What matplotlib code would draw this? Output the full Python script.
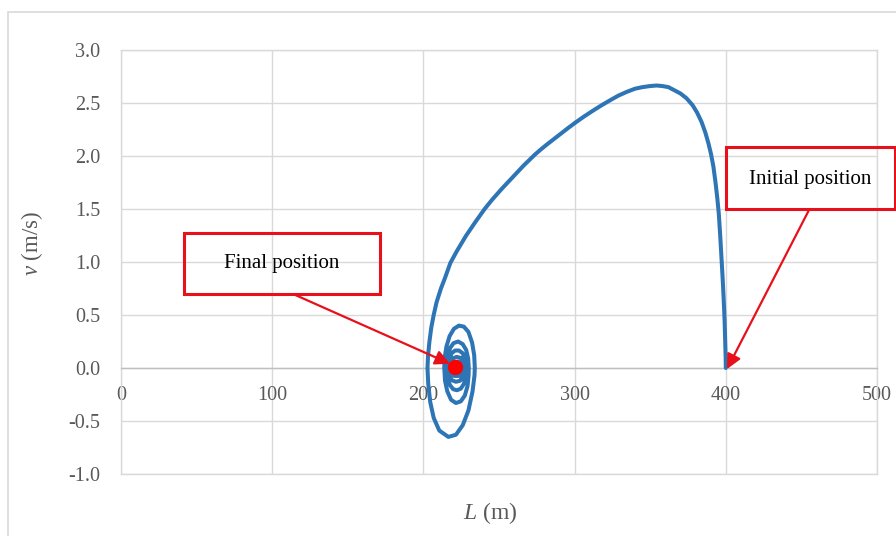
import matplotlib
matplotlib.use('Agg')
import matplotlib.pyplot as plt
from matplotlib.patches import Rectangle

# 主轨迹 (从初始位置 L=400 出发)
arc_L = [400.0, 399.9, 399.6, 399.2, 398.6, 397.9, 397.1, 396.3, 395.4, 394.4,
         393.2, 391.8, 390.2, 388.5, 386.5, 384.0, 381.0, 378.0, 374.0, 370.0,
         366.0, 362.0, 358.0, 354.3, 350.0, 345.0, 340.0, 334.5, 329.0, 324.0,
         318.0, 312.4, 306.5, 301.0, 295.8, 290.8, 286.3, 281.8, 277.5, 273.5,
         266.3, 259.0, 251.8, 245.3, 240.5, 234.5, 228.3, 222.0, 217.8, 214.3,
         211.6, 208.7, 206.8, 205.2, 204.0, 203.1, 202.7]
arc_v = [0.00, 0.10, 0.25, 0.45, 0.65, 0.85, 1.05, 1.25, 1.45, 1.60,
         1.75, 1.90, 2.02, 2.12, 2.22, 2.32, 2.41, 2.48, 2.545, 2.59,
         2.62, 2.65, 2.66, 2.665, 2.66, 2.65, 2.635, 2.605, 2.57, 2.53,
         2.48, 2.43, 2.375, 2.32, 2.265, 2.21, 2.16, 2.11, 2.06, 2.01,
         1.91, 1.80, 1.69, 1.585, 1.50, 1.38, 1.25, 1.10, 0.99, 0.85,
         0.75, 0.62, 0.50, 0.38, 0.25, 0.12, 0.00]

# 螺旋收敛部分
spiral_L = [203.2, 204.5, 206.8, 210.5, 216.5, 221.5, 226.0, 229.8, 232.5, 233.8, 234.0,
            233.6, 232.2, 229.8, 226.8, 223.5, 220.2, 217.3, 215.2, 214.1, 213.8,
            214.3, 215.8, 218.3, 221.5, 224.7, 227.4, 229.2, 229.9, 230.0,
            229.6, 228.3, 226.0, 223.0, 220.0, 217.7, 216.1, 215.5,
            216.0, 217.5, 219.7, 222.2, 224.7, 226.8, 227.8, 228.0,
            227.5, 226.0, 223.5, 221.0, 218.7, 217.1, 216.5,
            217.1, 218.8, 221.5, 224.3, 226.3, 227.0,
            226.4, 224.6, 222.0, 219.4, 217.9, 217.5,
            218.3, 220.4, 223.2, 225.4, 226.0,
            225.3, 223.0, 220.4, 218.9, 218.5,
            219.3, 222.0, 224.5, 225.0,
            223.8, 221.5, 219.8, 219.5,
            220.5, 222.5, 224.0,
            222.5, 221.5]
spiral_v = [-0.15, -0.32, -0.47, -0.59, -0.65, -0.63, -0.54, -0.40, -0.22, -0.07, 0.00,
            0.12, 0.24, 0.34, 0.39, 0.40, 0.37, 0.30, 0.20, 0.10, 0.00,
            -0.12, -0.22, -0.30, -0.33, -0.315, -0.26, -0.17, -0.07, 0.00,
            0.09, 0.17, 0.225, 0.25, 0.235, 0.19, 0.11, 0.00,
            -0.09, -0.16, -0.20, -0.21, -0.195, -0.15, -0.08, 0.00,
            0.08, 0.14, 0.165, 0.165, 0.14, 0.08, 0.00,
            -0.07, -0.115, -0.13, -0.12, -0.07, 0.00,
            0.06, 0.095, 0.105, 0.09, 0.05, 0.00,
            -0.05, -0.075, -0.075, -0.05, 0.00,
            0.04, 0.06, 0.055, 0.03, 0.00,
            -0.03, -0.045, -0.03, 0.00,
            0.025, 0.03, 0.015, 0.00,
            -0.02, -0.02, 0.00,
            0.01, 0.00]

final_pos = (221.0, 0.01)
x_ticks = [0, 100, 200, 300, 400, 500]
y_ticks = [-1.0, -0.5, 0.0, 0.5, 1.0, 1.5, 2.0, 2.5, 3.0]

plt.rcParams['font.family'] = ['Liberation Serif', 'DejaVu Serif']
plt.rcParams['mathtext.fontset'] = 'custom'
plt.rcParams['mathtext.it'] = 'Liberation Serif:italic'
plt.rcParams['mathtext.rm'] = 'Liberation Serif'

grid_c = '#d9d9d9'
txt_c = '#595959'
red = '#e8101a'
blue = '#2e75b6'

fig = plt.figure(figsize=(8.96, 5.36), dpi=100)
# 图表外框
fig.patches.append(Rectangle((8 / 896, -0.05), 1.1, 1 - 12 / 536 + 0.05,
                             transform=fig.transFigure, fill=False,
                             edgecolor='#d9d9d9', lw=1.2))
ax = fig.add_axes([121 / 896, 1 - 474 / 536, 756 / 896, 424 / 536])

ax.plot(arc_L + spiral_L, arc_v + spiral_v, color=blue, lw=2.9,
        solid_joinstyle='round', solid_capstyle='round', zorder=3)
ax.plot(*final_pos, 'o', color='#ff0000', ms=10, zorder=4)

ax.set_xlim(0, 500)
ax.set_ylim(-1.0, 3.0)
ax.set_xticks(x_ticks)
ax.set_yticks(y_ticks)
ax.set_xticklabels([str(t) for t in x_ticks])
ax.set_yticklabels(['%.1f' % t for t in y_ticks])
ax.grid(True, color=grid_c, lw=1.0)
ax.set_axisbelow(True)
for s in ['left', 'top', 'right']:
    ax.spines[s].set_color(grid_c)
    ax.spines[s].set_linewidth(1.0)
ax.spines['bottom'].set_position(('data', 0))
ax.spines['bottom'].set_color('#bfbfbf')
ax.spines['bottom'].set_linewidth(1.0)
ax.axhline(-1.0, color=grid_c, lw=1.0, clip_on=False)
ax.tick_params(axis='both', length=0, labelsize=14.5, labelcolor=txt_c)
ax.tick_params(axis='x', pad=13)
ax.tick_params(axis='y', pad=15)

ax.set_xlabel('$L$ (m)', fontsize=17, color=txt_c)
ax.set_ylabel('$v$ (m/s)', fontsize=16.5, color=txt_c)
ax.xaxis.set_label_coords(0.489, -0.061)
ax.yaxis.set_label_coords(-0.1005, 0.545)

# 标注框
ax.add_patch(Rectangle((41.7, 0.70), 129.6, 0.57, fill=False, edgecolor=red,
                       lw=2.2, clip_on=False, zorder=5))
ax.text(106.5, 0.985, 'Final position', ha='center', va='center', fontsize=15,
        color='black', zorder=6)
ax.add_patch(Rectangle((400.1, 1.50), 111.8, 0.585, fill=False, edgecolor=red,
                       lw=2.2, clip_on=False, zorder=5))
ax.text(455.7, 1.775, 'Initial position', ha='center', va='center', fontsize=15,
        color='black', zorder=6, clip_on=False)

ax.annotate('', xy=(217.6, 0.04), xytext=(115.1, 0.69),
            arrowprops=dict(arrowstyle='-|>', color=red, lw=1.6,
                            mutation_scale=22, shrinkA=0, shrinkB=0),
            zorder=5)
ax.annotate('', xy=(400.8, -0.01), xytext=(455.0, 1.49),
            arrowprops=dict(arrowstyle='-|>', color=red, lw=1.6,
                            mutation_scale=22, shrinkA=0, shrinkB=0),
            zorder=5, annotation_clip=False)

fig.savefig('out.png', dpi=100)
